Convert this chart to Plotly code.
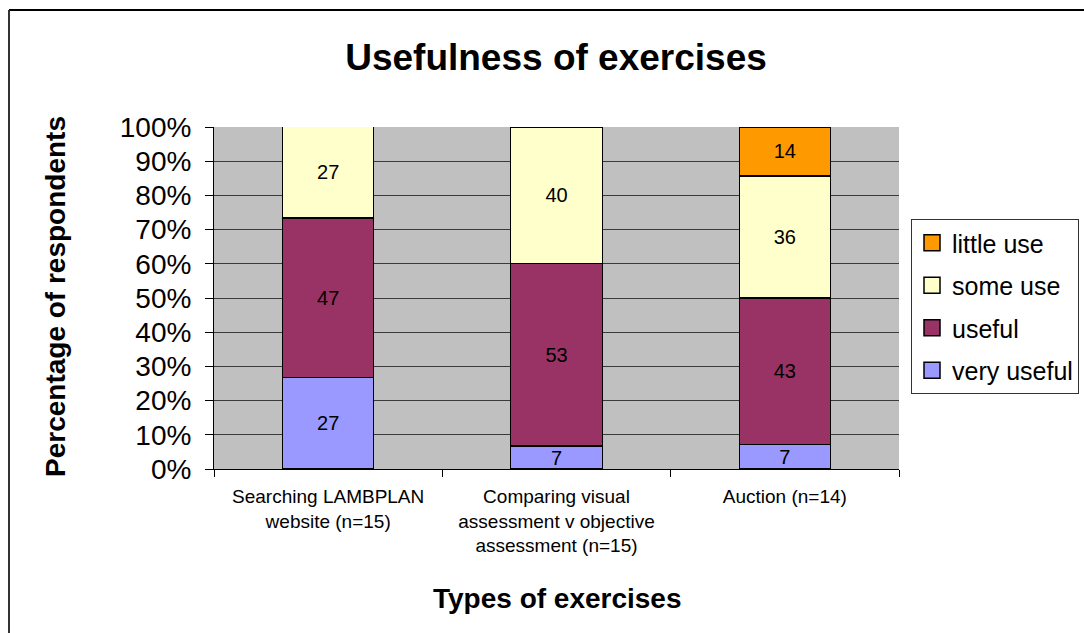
import plotly.graph_objects as go

categories = ["Searching LAMBPLAN<br>website (n=15)",
              "Comparing visual<br>assessment v objective<br>assessment (n=15)",
              "Auction (n=14)"]
very_useful = [26.7, 6.7, 7.1]
useful = [46.7, 53.3, 42.9]
some_use = [26.7, 40.0, 35.7]
little_use = [0.0, 0.0, 14.3]

series = [("very useful", very_useful, "#9999FF"),
          ("useful", useful, "#993366"),
          ("some use", some_use, "#FFFFCC"),
          ("little use", little_use, "#FF9900")]

W, H = 1084, 633
L, R, T, B = 214, 899, 127, 469
FONT = "Liberation Sans, Arial"

fig = go.Figure()
for name, vals, col in series:
    fig.add_trace(go.Bar(
        x=categories, y=vals, name=name, showlegend=False,
        marker=dict(color=col, line=dict(color="black", width=1.3)),
        text=[f"{v:.0f}" if v > 0 else "" for v in vals],
        textposition="inside", insidetextanchor="middle", textangle=0,
        textfont=dict(size=20, color="black", family=FONT),
        width=0.4,
    ))
# legend entries with square swatches (top-to-bottom: little use ... very useful)
for rank, (name, vals, col) in enumerate(reversed(series), start=1):
    fig.add_trace(go.Scatter(
        x=[None], y=[None], mode="markers", name=name, legendgroup=name,
        legendrank=rank,
        marker=dict(symbol="square", size=16, color=col,
                    line=dict(color="black", width=1.5)),
    ))

def px_x(p):
    return (p - L) / (R - L)

def px_y(p):
    return (B - p) / (B - T)

fig.update_layout(
    width=W, height=H,
    barmode="stack",
    paper_bgcolor="white", plot_bgcolor="#C0C0C0",
    margin=dict(l=L, r=W - R, t=T, b=H - B, pad=0, autoexpand=False),
    font=dict(family=FONT, color="black"),
    title=dict(text="<b>Usefulness of exercises</b>", x=px_x(556), xref="paper",
               y=1 - 57 / H, yref="container", yanchor="middle", xanchor="center",
               font=dict(size=37, color="black")),
    uniformtext=dict(mode="show", minsize=20),
    showlegend=True,
    legend=dict(x=911 / W, y=1 - 219 / H, xref="container", yref="container",
                xanchor="left", yanchor="top",
                traceorder="grouped", tracegroupgap=7, itemwidth=30,
                bordercolor="#333333", borderwidth=1, bgcolor="white",
                font=dict(size=25, color="black")),
    xaxis=dict(type="category", tickson="boundaries", ticks="outside", ticklen=7,
               tickcolor="black", showline=True, linecolor="black", linewidth=1,
               showgrid=False, tickfont=dict(size=19, color="black"),
               ticklabelstandoff=10, range=[-0.5, 2.5]),
    yaxis=dict(range=[0, 100], dtick=10, ticksuffix="%", ticks="outside", ticklen=8,
               tickcolor="black", showline=True, linecolor="black", linewidth=1,
               showgrid=True, gridcolor="#3a3a3a", gridwidth=1, zeroline=False,
               ticklabelstandoff=8,
               tickfont=dict(size=28, color="black")),
    annotations=[
        dict(text="<b>Percentage of respondents</b>", xref="paper", yref="paper",
             x=px_x(55), y=px_y(297), textangle=-90, showarrow=False,
             xanchor="center", yanchor="middle", font=dict(size=28, color="black")),
        dict(text="<b>Types of exercises</b>", xref="paper", yref="paper",
             x=px_x(557), y=px_y(598), showarrow=False,
             xanchor="center", yanchor="middle", font=dict(size=28, color="black")),
    ],
    shapes=[
        dict(type="line", xref="paper", yref="paper", x0=px_x(9), x1=px_x(1090),
             y0=px_y(10), y1=px_y(10), line=dict(color="black", width=2)),
        dict(type="line", xref="paper", yref="paper", x0=px_x(9), x1=px_x(9),
             y0=px_y(10), y1=px_y(640), line=dict(color="#333333", width=2)),
    ],
)

fig.write_html("out.html")
